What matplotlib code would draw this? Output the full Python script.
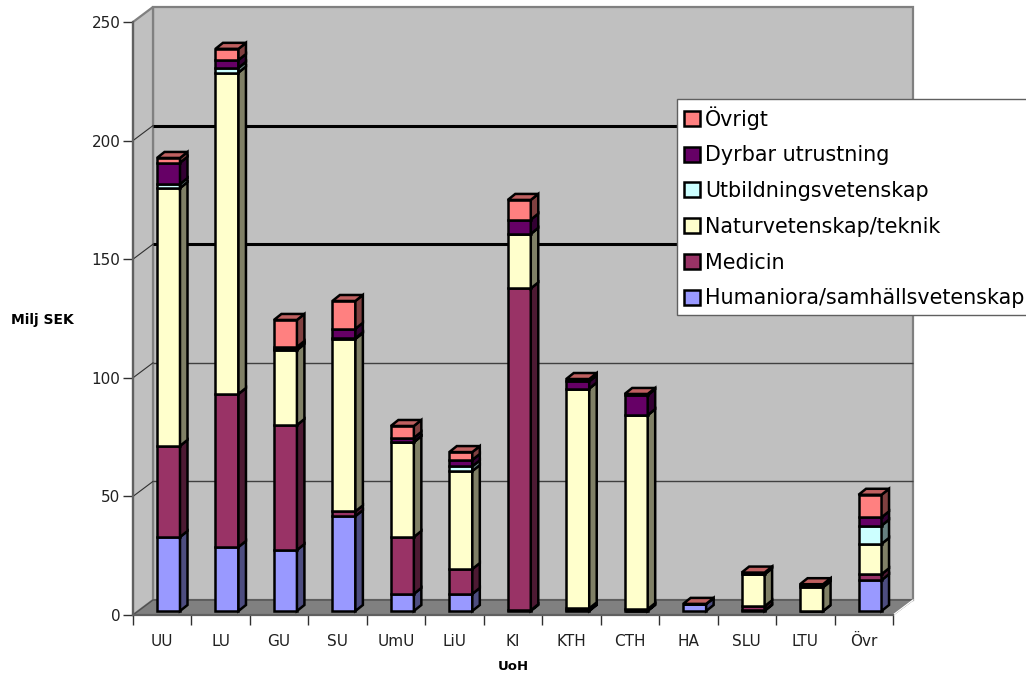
import matplotlib.pyplot as plt
import numpy as np
from matplotlib.patches import Patch

# Data
uoh = ["UU", "LU", "GU", "SU", "UmU", "LiU", "KI", "KTH", "CTH", "HA", "SLU", "LTU", "Övr"]
humaniora = [31.2, 27, 25.7, 40, 7.2, 7.2, 0.3, 0.3, 0.2, 3, 0.3, 0, 13]
medicin = [38.4, 64.5, 52.7, 2, 24, 10.5, 135.7, 0.8, 0.6, 0, 1.7, 0, 2.5]
naturvet = [108.7, 135.5, 31.6, 72.7, 40, 41.3, 23, 92.7, 81.8, 0, 13.5, 10, 12.8]
utbildning = [1.7, 2, 0.5, 0.3, 0.1, 2, 0, 0, 0, 0, 0, 1, 7.7]
dyrbar = [9, 3.3, 0.8, 4, 1.7, 2.7, 6, 3, 8.4, 0, 0.5, 0.1, 3.5]
ovrigt = [2, 4.7, 11.4, 11.7, 5, 3.3, 8.3, 1, 0.5, 0, 0.2, 0.2, 9.5]

series = [humaniora, medicin, naturvet, utbildning, dyrbar, ovrigt]
names = ["Humaniora/samhällsvetenskap", "Medicin", "Naturvetenskap/teknik",
         "Utbildningsvetenskap", "Dyrbar utrustning", "Övrigt"]
front = ["#9999FF", "#993366", "#FFFFCC", "#CCFFFF", "#660066", "#FF8080"]
side = ["#4D4D80", "#4D1A33", "#808066", "#668080", "#330033", "#804040"]
top_col = "#BF6060"

W, H = 1026, 675
fig = plt.figure(figsize=(W / 100, H / 100), dpi=100)
ax = fig.add_axes([133 / W, 1 - 615 / H, 760 / W, 593 / H])
ax.set_xlim(0, 13)
ax.set_ylim(0, 250)

# pixels to data units
ux = 13 / 760
uy = 250 / 593
wall_dx = 20 * ux
wall_dy = 15 * uy

# Walls and floor
ax.fill([wall_dx, 13 + wall_dx, 13 + wall_dx, wall_dx],
        [wall_dy, wall_dy, 250 + wall_dy, 250 + wall_dy],
        fc="#C0C0C0", ec="#808080", lw=1.6, clip_on=False, zorder=1)
ax.fill([0, wall_dx, wall_dx, 0], [0, wall_dy, 250 + wall_dy, 250],
        fc="#C0C0C0", ec="#808080", lw=1.6, clip_on=False, zorder=1)
ax.fill([0, 13, 13 + wall_dx, wall_dx], [0, 0, wall_dy, wall_dy],
        fc="#808080", ec="#505050", lw=1, clip_on=False, zorder=1.5)
ax.plot([13, 13 + wall_dx], [0, wall_dy], color="white", lw=1, clip_on=False, zorder=1.6)

# Grid on the back wall
for v, lw in [(50, 1), (100, 1), (150, 2.2), (200, 2.2)]:
    ax.plot([wall_dx, 13 + wall_dx], [v + wall_dy, v + wall_dy], color="black" if lw > 1 else "#404040",
            lw=lw, clip_on=False, zorder=2, solid_capstyle="butt")
    ax.plot([0, wall_dx], [v, v + wall_dy], color="#303030", lw=0.8, clip_on=False, zorder=2)

# Bars
x = np.arange(13)
bar_left = x + 24 * ux
bar_w = 23 * ux
base = 4 * uy
dep_x = 7.5 * ux
dep_y = 6 * uy
z = 3
for i in x:
    bottom = base
    for s in range(6):
        v = series[s][i]
        l = bar_left[i]
        r = l + bar_w
        ax.bar(l, v, bar_w, bottom=bottom, align="edge", color=front[s], edgecolor="black",
               linewidth=1.8, clip_on=False, zorder=z)
        ax.fill([r, r + dep_x, r + dep_x, r],
                [bottom, bottom + dep_y, bottom + v + dep_y, bottom + v],
                fc=side[s], ec="black", lw=1.8, clip_on=False, zorder=z)
        bottom += v
        z += 0.01
    ax.fill([l, r, r + dep_x, l + dep_x],
            [bottom, bottom, bottom + dep_y, bottom + dep_y],
            fc=top_col, ec="black", lw=1.8, clip_on=False, zorder=z)

# Axes
for sp in ["top", "right"]:
    ax.spines[sp].set_visible(False)
ax.patch.set_visible(False)
for sp in ["left", "bottom"]:
    ax.spines[sp].set_color("#606060")
    ax.spines[sp].set_linewidth(1.6)
    ax.spines[sp].set_zorder(2.5)

ax.set_yticks([0, 50, 100, 150, 200, 250])
ax.tick_params(axis="y", length=7, width=1, color="#303030", labelsize=11, pad=2, labelcolor="#202020")
ax.set_xticks(np.arange(14))
ax.set_xticklabels([])
ax.set_xticks(x + 0.5, labels=uoh, minor=True)
ax.tick_params(axis="x", which="major", length=7, width=1, color="#303030")
ax.tick_params(axis="x", which="minor", length=0, labelsize=11, pad=14, labelcolor="#202020")

fig.text(42 / W, 1 - 320 / H, "Milj SEK", fontsize=10, fontweight="bold", ha="center", va="center")
fig.text(513 / W, 1 - 667 / H, "UoH", fontsize=9.5, fontweight="bold", ha="center", va="center")

# Legend, runs off the right edge like the original
handles = [Patch(fc=front[s], ec="black", lw=1.8) for s in range(5, -1, -1)]
leg = ax.legend(handles, names[::-1], loc="upper left", bbox_to_anchor=(677 / W, 1 - 99 / H),
                bbox_transform=fig.transFigure, fontsize=14.9, frameon=True, fancybox=False,
                edgecolor="#606060", facecolor="white", framealpha=1, handlelength=0.75,
                handleheight=0.75, handletextpad=0.28, labelspacing=0.76, borderaxespad=0,
                borderpad=0.34)
leg.set_zorder(10)
leg.get_frame().set_linewidth(1)

fig.savefig("out.png", dpi=100)
